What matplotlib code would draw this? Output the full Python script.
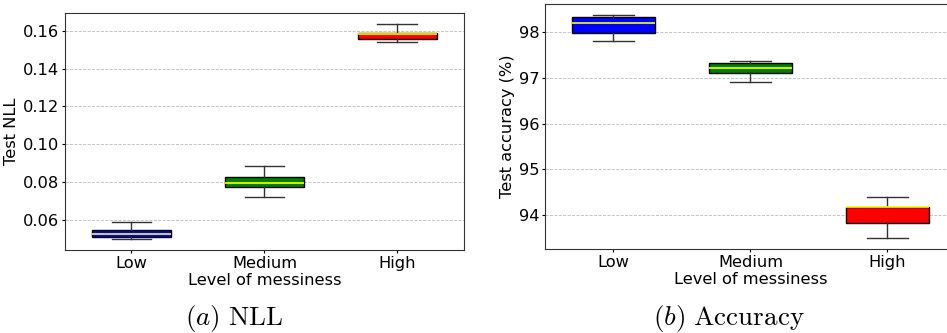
import matplotlib
matplotlib.use('Agg')
import matplotlib.pyplot as plt

# messiness levels
levels = ['Low', 'Medium', 'High']
colors = ['blue', 'green', 'red']

# box stats: lower whisker, q1, median, q3, upper whisker
nll_lo  = [0.0498, 0.0723, 0.1541]
nll_q1  = [0.0509, 0.0774, 0.1555]
nll_med = [0.0525, 0.0796, 0.1581]
nll_q3  = [0.0546, 0.0829, 0.1588]
nll_hi  = [0.0588, 0.0887, 0.1637]

acc_lo  = [97.82, 96.92, 93.49]
acc_q1  = [97.985, 97.12, 93.82]
acc_med = [98.21, 97.23, 94.17]
acc_q3  = [98.33, 97.32, 94.18]
acc_hi  = [98.38, 97.365, 94.39]

plt.rcParams['mathtext.fontset'] = 'cm'


def make_stats(lo, q1, med, q3, hi):
    st = []
    for i in range(len(lo)):
        st.append(dict(whislo=lo[i], q1=q1[i], med=med[i], q3=q3[i],
                       whishi=hi[i], fliers=[], label=levels[i]))
    return st


def draw(ax, stats, ylabel):
    bp = ax.bxp(stats, widths=0.6, patch_artist=True, showfliers=False,
                medianprops=dict(color='yellow', linewidth=1.2),
                boxprops=dict(edgecolor='black', linewidth=1.0),
                whiskerprops=dict(color='#333333', linewidth=1.0),
                capprops=dict(color='#333333', linewidth=1.0))
    for patch, c in zip(bp['boxes'], colors):
        patch.set_facecolor(c)
    ax.yaxis.grid(True, linestyle='--', color='#bbbbbb', linewidth=0.6)
    ax.set_axisbelow(True)
    ax.set_xlim(0.5, 3.5)
    ax.tick_params(labelsize=11.7, length=2.5, pad=1.5)
    ax.set_xlabel('Level of messiness', fontsize=11.7, labelpad=2)
    ax.set_ylabel(ylabel, fontsize=11.7, labelpad=3)
    for sp in ax.spines.values():
        sp.set_color('#333333')


fig = plt.figure(figsize=(9.47, 3.33), dpi=100)
ax1 = fig.add_axes([0.0686, 0.2492, 0.4213, 0.7117])
ax2 = fig.add_axes([0.5755, 0.2523, 0.434, 0.7357])

draw(ax1, make_stats(nll_lo, nll_q1, nll_med, nll_q3, nll_hi), 'Test NLL')
ax1.set_ylim(0.0442, 0.1693)
ax1.set_yticks([0.06, 0.08, 0.10, 0.12, 0.14, 0.16])

draw(ax2, make_stats(acc_lo, acc_q1, acc_med, acc_q3, acc_hi), 'Test accuracy (%)')
ax2.set_ylim(93.26, 98.62)
ax2.set_yticks([94, 95, 96, 97, 98])

fig.text(234 / 947, 0.045, r'$(a)\ \mathrm{NLL}$', ha='center', va='center', fontsize=19.5)
fig.text(729 / 947, 0.045, r'$(b)\ \mathrm{Accuracy}$', ha='center', va='center', fontsize=19.5)

fig.savefig('out.png', dpi=100)
